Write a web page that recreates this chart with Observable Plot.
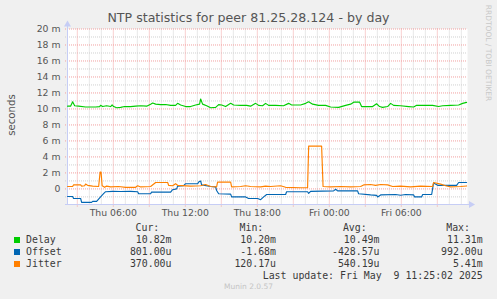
<!DOCTYPE html>
<html>
<head>
<meta charset="utf-8">
<script src="https://cdn.jsdelivr.net/npm/d3@7"></script>
<script src="https://cdn.jsdelivr.net/npm/@observablehq/plot@0.6"></script>
<style>
  html, body { margin: 0; padding: 0; background: #f0f0f0; }
  #wrap { position: relative; width: 497px; height: 299px; background: #f0f0f0; overflow: hidden; font-family: "DejaVu Sans", sans-serif; }
  #title { position: absolute; left: 0; top: 0; width: 497px; height: 22px; text-align: center; font-size: 12.6px; line-height: 12.6px; padding-top: 12px; box-sizing: border-box; color: #555; white-space: nowrap; }
  #chart { position: absolute; left: 0; top: 22px; }
  .ylab { position: absolute; left: 11px; top: 115px; transform: translate(-50%, -50%) rotate(-90deg); font-size: 10.2px; color: #555; white-space: nowrap; }
  .wm { position: absolute; left: 488px; top: 53px; transform: translate(-50%, -50%) rotate(90deg); font-size: 7.5px; color: #c8c8c8; white-space: nowrap; }
  .munin { position: absolute; left: 0; width: 497px; top: 282px; text-align: center; font-size: 7.5px; color: #c4c4c4; }
  .lg { position: absolute; font-family: "DejaVu Sans Mono", monospace; font-size: 9.9px; line-height: 12px; height: 12px; color: #3a3a3a; white-space: pre; }
  .sw { position: absolute; width: 6px; height: 6px; }
</style>
</head>
<body>
<div id="wrap">
  <div id="title">NTP statistics for peer 81.25.28.124 - by day</div>
  <div id="chart"></div>
  <div class="ylab">seconds</div>
  <div class="wm">RRDTOOL / TOBI OETIKER</div>
  <div id="legend"></div>
  <div class="munin">Munin 2.0.57</div>
</div>
<script>
// ---- data (hours since Thu 2025-05-08 00:00, values in milliseconds) ----
const delayHours = [2.19,2.44,2.61,2.78,3.11,3.69,4.53,4.86,4.94,5.11,5.44,5.78,5.9,6.03,6.28,6.61,6.94,7.44,7.86,8.28,8.78,9.11,9.28,9.53,9.94,10.36,10.78,11.19,11.36,11.61,12.03,12.44,12.86,13.19,13.28,13.44,13.78,14.11,14.53,14.78,15.03,15.36,15.78,16.03,16.61,17.11,17.44,17.86,18.11,18.44,18.69,18.94,19.53,20.19,20.61,20.86,21.61,22.03,22.28,22.61,23.11,23.69,24.11,24.78,25.36,25.78,26.03,26.53,26.69,27.11,27.61,27.94,28.19,28.44,28.86,29.11,29.36,29.94,30.61,31.03,31.28,32.03,32.61,33.11,33.44,34.11,34.78,35.11,35.44];
const delayMs = [10.35,10.35,10.9,10.4,10.35,10.25,10.25,10.3,10.45,10.3,10.4,10.3,10.5,10.3,10.15,10.2,10.3,10.3,10.35,10.4,10.35,10.6,10.75,10.6,10.55,10.55,10.45,10.45,10.7,10.5,10.3,10.3,10.5,10.6,11.25,10.6,10.4,10.15,10.2,10.55,10.5,10.3,10.7,10.5,10.45,10.45,10.35,10.7,10.45,10.4,10.7,10.45,10.45,10.4,10.7,10.5,10.5,10.7,10.9,10.6,10.45,10.45,10.25,10.2,10.45,10.6,10.85,10.85,10.3,10.3,10.3,10.65,10.3,10.2,10.3,10.7,10.45,10.4,10.3,10.25,10.45,10.45,10.45,10.3,10.4,10.45,10.5,10.7,10.82];

const offsetHours = [2.19,2.61,2.69,3.28,3.36,4.19,4.28,4.61,4.94,5.19,5.36,5.94,6.61,7.44,8.03,8.11,9.11,9.19,10.78,10.94,11.28,11.36,11.86,12.03,13.03,13.11,13.28,13.36,14.11,14.53,14.61,14.78,15.78,15.86,17.03,17.28,18.03,18.28,18.53,18.78,20.36,20.44,22.19,22.28,22.44,24.36,24.53,24.69,26.36,26.44,27.44,27.94,28.03,28.28,29.53,29.94,30.36,31.03,31.11,31.69,31.78,32.53,32.69,33.03,34.61,34.78,35.44];
const offsetMs = [-0.95,-0.95,-1.2,-1.2,-1.68,-1.68,-1.56,-1.56,-1.0,-0.6,-0.35,-0.3,-0.32,-0.3,-0.35,-0.6,-0.6,-0.4,-0.4,-0.1,0.0,0.35,0.4,0.65,0.65,0.85,0.99,0.5,0.3,0.25,-0.2,-0.6,-0.65,-1.0,-1.0,-1.2,-1.2,-1.35,-1.0,-0.7,-0.7,-0.35,-0.35,-0.55,-0.3,-0.25,-0.05,-0.25,-0.25,-0.6,-0.75,-0.8,-1.0,-0.75,-0.7,-0.8,-0.7,-0.75,-1.0,-1.0,-0.7,-0.7,0.75,0.45,0.45,0.8,0.8];

const jitterHours = [2.19,2.61,2.69,3.28,3.36,3.61,3.69,3.86,4.28,4.78,4.9,4.98,5.07,5.28,5.44,5.78,6.44,7.03,7.86,8.03,8.28,9.11,9.53,10.53,10.61,10.94,11.19,11.36,12.44,13.28,13.69,14.11,14.61,14.69,15.78,15.86,16.61,17.03,17.44,18.28,18.69,19.11,19.94,20.36,21.61,22.19,22.28,23.36,23.48,24.11,24.94,25.78,26.61,26.86,27.44,27.86,28.28,28.86,29.28,29.94,30.78,31.61,32.61,32.69,33.28,33.69,34.11,34.94,35.44];
const jitterMs = [0.3,0.3,0.5,0.5,0.35,0.4,0.6,0.45,0.35,0.3,2.1,2.1,0.4,0.2,0.35,0.25,0.3,0.2,0.2,0.4,0.25,0.3,0.8,0.8,0.45,0.4,0.65,0.45,0.35,0.4,0.55,0.3,0.25,0.85,0.85,0.25,0.3,0.4,0.3,0.25,0.35,0.3,0.4,0.2,0.15,0.15,5.35,5.35,0.3,0.25,0.3,0.25,0.3,0.5,0.55,0.45,0.55,0.5,0.3,0.35,0.25,0.35,0.3,0.8,0.6,0.4,0.25,0.3,0.37];

const yTickValues = [0,2,4,6,8,10,12,14,16,18,20];
const xTickHours = [6,12,18,24,30];
const domainHours = [2.1833, 35.5167];
const yDomain = [-1.95, 20];

const seriesNames = ["Delay","Offset","Jitter"];
const seriesColors = ["#00cc00","#0066b3","#ff8000"];
const curCol = ["10.82m","801.00u","370.00u"];
const minCol = ["10.20m","-1.68m","120.17u"];
const avgCol = ["10.49m","-428.57u","540.19u"];
const maxCol = ["11.31m","992.00u","5.41m"];
const legendHeaders = ["Cur:","Min:","Avg:","Max:"];
const lastUpdate = "Last update: Fri May  9 11:25:02 2025";

// ---- build ----
const base = Date.UTC(2025, 4, 8);
const t = h => new Date(base + h * 3600e3);
const mk = (hs, vs) => hs.map((h, i) => ({time: t(h), value: vs[i]}));
const delay = mk(delayHours, delayMs);
const offset = mk(offsetHours, offsetMs);
const jitter = mk(jitterHours, jitterMs);

const xMajor = d3.range(3, 36, 3).map(t);
const xMinor = d3.range(3, 36, 1).filter(h => h % 3 !== 0).map(t);
const yMajor = yTickValues;
const yMinor = d3.range(-1, 20, 2);
const axisColor = "#c6cdf5";

const chart = Plot.plot({
  width: 497,
  height: 200,
  marginLeft: 67,
  marginRight: 30,
  marginTop: 6.5,
  marginBottom: 18,
  style: {background: "transparent", fontFamily: "DejaVu Sans", fontSize: "9.3px", overflow: "visible"},
  x: {type: "utc", domain: domainHours.map(t)},
  y: {domain: yDomain},
  marks: [
    Plot.frame({fill: "white", stroke: null}),
    Plot.ruleX(xMinor, {stroke: "#d0d0d0", strokeDasharray: "1,1", strokeWidth: 1}),
    Plot.ruleY(yMinor, {stroke: "#d0d0d0", strokeDasharray: "1,1", strokeWidth: 1, insetLeft: -2}),
    Plot.ruleX(xMajor, {stroke: "#f2a0a0", strokeDasharray: "1,1", strokeWidth: 1, insetBottom: -3}),
    Plot.ruleY(yMajor, {stroke: "#f2a0a0", strokeDasharray: "1,1", strokeWidth: 1, insetLeft: -2}),
    Plot.ruleX([t(domainHours[0])], {stroke: axisColor, insetTop: -4}),
    Plot.ruleY([yDomain[0]], {stroke: axisColor, insetLeft: -2, insetRight: -2}),
    Plot.dot([{x: t(domainHours[0]), y: yDomain[1]}], {x: "x", y: "y", symbol: "triangle", r: 2.6, dy: -4.5, fill: axisColor, stroke: null}),
    Plot.dot([{x: t(domainHours[1]), y: yDomain[0]}], {x: "x", y: "y", symbol: "triangle", r: 2.6, dx: 3.5, rotate: 90, fill: axisColor, stroke: null}),
    Plot.axisY({ticks: yTickValues, tickSize: 0, tickPadding: 7, fill: "#555", tickFormat: d => d === 0 ? "0" : `${d} m`}),
    Plot.axisX({ticks: xTickHours.map(t), tickSize: 0, tickPadding: 5, fill: "#555", tickFormat: d3.utcFormat("%a %H:%M")}),
    Plot.line(delay, {x: "time", y: "value", stroke: seriesColors[0], strokeWidth: 1.15}),
    Plot.line(offset, {x: "time", y: "value", stroke: seriesColors[1], strokeWidth: 1.15}),
    Plot.line(jitter, {x: "time", y: "value", stroke: seriesColors[2], strokeWidth: 1.15})
  ]
});
document.getElementById("chart").appendChild(chart);

// ---- legend ----
const lg = document.getElementById("legend");
function put(text, cy, opts) {
  const d = document.createElement("div");
  d.className = "lg";
  d.textContent = text;
  d.style.top = (cy - 6) + "px";
  if (opts.left != null) d.style.left = opts.left + "px";
  if (opts.right != null) { d.style.right = (497 - opts.right) + "px"; d.style.textAlign = "right"; }
  lg.appendChild(d);
}
const headerRights = [159.3, 263.3, 366.7, 470];
const colRights = [171.5, 276, 379.5, 482.7];
legendHeaders.forEach((h, i) => put(h, 227.7, {right: headerRights[i]}));
const rowY = [239.7, 251.7, 263.7];
seriesNames.forEach((name, i) => {
  const sw = document.createElement("div");
  sw.className = "sw";
  sw.style.left = "14px";
  sw.style.top = (rowY[i] - 3) + "px";
  sw.style.background = seriesColors[i];
  lg.appendChild(sw);
  put(name, rowY[i], {left: 26});
  [curCol, minCol, avgCol, maxCol].forEach((col, j) => put(col[i], rowY[i], {right: colRights[j]}));
});
put(lastUpdate, 275.7, {right: 482.7});
</script>
</body>
</html>
